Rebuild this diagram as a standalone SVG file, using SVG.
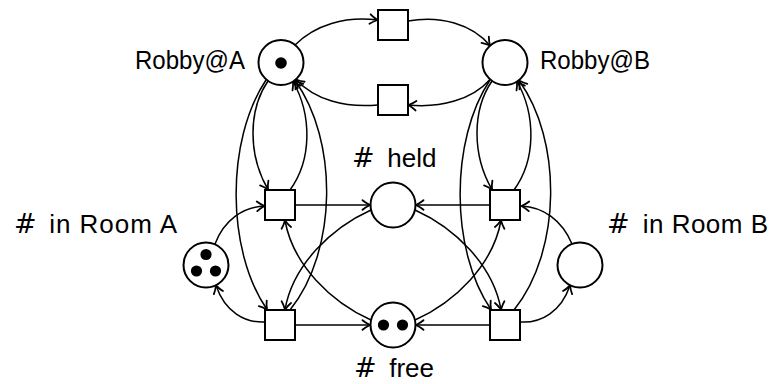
<svg xmlns="http://www.w3.org/2000/svg" width="773" height="384" viewBox="0 0 773 384">
<style>
.pl{fill:#fff;stroke:#000;stroke-width:2}
.tr{fill:#fff;stroke:#000;stroke-width:2}
.tok{fill:#000}
.c{fill:none;stroke:#000;stroke-width:1.5;marker-end:url(#ar)}
.lb{font-family:"Liberation Sans","DejaVu Sans",sans-serif;font-size:26px;fill:#000}
.hs{font-family:"DejaVu Sans","Liberation Sans",sans-serif;font-size:27px}
</style>
<defs>
<marker id="ar" viewBox="-10 -7 12 14" refX="0" refY="0" markerWidth="12" markerHeight="14" markerUnits="userSpaceOnUse" orient="auto">
<path d="M-7.5,-4.8 C-5,-2.6 -1.6,-0.8 0,0 C-1.6,0.8 -5,2.6 -7.5,4.8" fill="none" stroke="#000" stroke-width="1.8" stroke-linecap="round" stroke-linejoin="round"/>
</marker>
</defs>
<g id="connectors">
<path class="c" d="M295,45 C315,25 345,16 377.5,20"/>
<path class="c" d="M408,21 C440,15 472,24 490,45.5"/>
<path class="c" d="M490,79.5 C472,100 440,108 408.5,105"/>
<path class="c" d="M378,105 C345,108 315,100 296,79.5"/>
<path class="c" d="M268,81 C248,110 248,155 268,189.5"/>
<path class="c" d="M290,190 C312,160 312,115 293,81.5"/>
<path class="c" d="M266,80 C226,140 226,250 267,309.5"/>
<path class="c" d="M290,310 C338,250 338,140 295,80.5"/>
<path class="c" d="M492,81 C472,110 472,155 492,189.5"/>
<path class="c" d="M514,190 C536,160 536,115 517,81.5"/>
<path class="c" d="M490,80 C450,140 450,250 491,309.5"/>
<path class="c" d="M514,310 C562,250 562,140 519,80.5"/>
<path class="c" d="M296,205 H370"/>
<path class="c" d="M296,325 H370"/>
<path class="c" d="M490,205 H416"/>
<path class="c" d="M490,325 H416"/>
<path class="c" d="M371,210 C331,228 293,265 285,309.5"/>
<path class="c" d="M371,320 C331,302 293,265 285,220.5"/>
<path class="c" d="M415,210 C455,228 493,265 501,309.5"/>
<path class="c" d="M415,320 C455,302 493,265 501,220.5"/>
<path class="c" d="M215,244 C224,220 243,207 264.5,206"/>
<path class="c" d="M265,322 C245,323 225,312 216,285.5"/>
<path class="c" d="M572,244 C562,220 543,207 521.5,206"/>
<path class="c" d="M521,322 C541,323 561,312 570,285.5"/>
</g>
<g id="robbyA">
<circle class="pl" cx="281" cy="62.5" r="22.5"/>
<circle class="tok" cx="281" cy="63" r="5.8"/>
<text class="lb" x="135" y="69" textLength="110" lengthAdjust="spacingAndGlyphs">Robby@A</text>
</g>
<g id="robbyB">
<circle class="pl" cx="505" cy="62.5" r="22.5"/>
<text class="lb" x="540" y="69" textLength="110" lengthAdjust="spacingAndGlyphs">Robby@B</text>
</g>
<g id="moveAB"><rect class="tr" x="378" y="10" width="30" height="30"/></g>
<g id="moveBA"><rect class="tr" x="378" y="85" width="30" height="30"/></g>
<g id="pickA"><rect class="tr" x="265" y="190" width="30" height="30"/></g>
<g id="dropA"><rect class="tr" x="265" y="310" width="30" height="30"/></g>
<g id="pickB"><rect class="tr" x="490" y="190" width="30" height="30"/></g>
<g id="dropB"><rect class="tr" x="490" y="310" width="30" height="30"/></g>
<g id="held">
<circle class="pl" cx="393" cy="205" r="22.5"/>
<text class="lb" y="167"><tspan class="hs" x="352">#</tspan><tspan x="380"> held</tspan></text>
</g>
<g id="free">
<circle class="pl" cx="393" cy="325" r="22.5"/>
<circle class="tok" cx="383.5" cy="325" r="5.6"/>
<circle class="tok" cx="402.5" cy="325" r="5.6"/>
<text class="lb" y="377"><tspan class="hs" x="354">#</tspan><tspan x="382"> free</tspan></text>
</g>
<g id="roomA">
<circle class="pl" cx="206" cy="265" r="22.5"/>
<circle class="tok" cx="206" cy="254.5" r="5.6"/>
<circle class="tok" cx="196.5" cy="271" r="5.6"/>
<circle class="tok" cx="215.5" cy="271" r="5.6"/>
<text class="lb" y="233"><tspan class="hs" x="14">#</tspan><tspan x="41" textLength="136"> in Room A</tspan></text>
</g>
<g id="roomB">
<circle class="pl" cx="580" cy="265" r="22.5"/>
<text class="lb" y="233"><tspan class="hs" x="607">#</tspan><tspan x="635" textLength="133"> in Room B</tspan></text>
</g>
</svg>
